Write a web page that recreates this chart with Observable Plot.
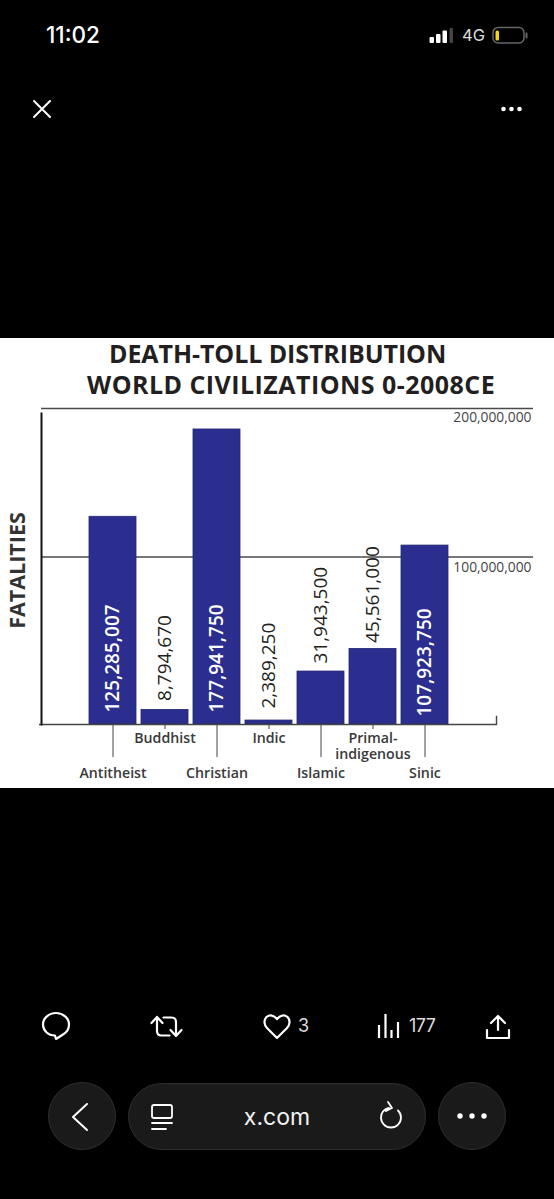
<!DOCTYPE html>
<html>
<head>
<meta charset="utf-8">
<script src="https://cdn.jsdelivr.net/npm/d3@7"></script>
<script src="https://cdn.jsdelivr.net/npm/@observablehq/plot@0.6"></script>
<style>
html,body{margin:0;padding:0;background:#000;}
#page{position:relative;width:554px;height:1199px;overflow:hidden;background:#000;font-family:Inter,Roboto,sans-serif;color:#fff;}
#chart{position:absolute;left:0;top:338px;width:554px;height:450px;background:#fff;}
#chart svg{display:block;}
.title{position:absolute;left:0;top:0;color:#231f20;font:700 25px "Open Sans",sans-serif;white-space:nowrap;margin:0;line-height:30.500px;}
.title span{display:block;}
.t{position:absolute;white-space:nowrap;line-height:1;}
.ic{position:absolute;left:0;top:0;}
</style>
</head>
<body>
<div id="page">
  <div class="t" style="left:46px;top:24px;font-size:22.500px;font-weight:500;">11:02</div>
  <div class="t" style="left:462px;top:27px;font-size:16.500px;color:#ddd;">4G</div>
  <div class="t" style="left:298px;top:1017px;font-size:18px;color:#ddd;">3</div>
  <div class="t" style="left:409px;top:1017px;font-size:18px;letter-spacing:-.6px;color:#ddd;">177</div>
  <svg class="ic" width="554" height="1199" fill="none" stroke="#fff" stroke-width="2" stroke-linecap="round" stroke-linejoin="round">
    <g stroke="none" fill="#fff">
      <rect x="429.500" y="37" width="4.500" height="6" rx="1"/><rect x="436" y="34" width="4.500" height="9" rx="1"/><rect x="442.500" y="30.500" width="4.500" height="12.500" rx="1"/>
      <rect x="449.500" y="28" width="3.500" height="15" rx="1" fill="#444"/>
      <rect x="495.500" y="30.500" width="3.500" height="10" rx="1.500" fill="#f5d90a"/>
      <circle cx="503.500" cy="109" r="2.300"/><circle cx="511.500" cy="109" r="2.300"/><circle cx="519.500" cy="109" r="2.300"/>
    </g>
    <rect x="493" y="27.500" width="31" height="15.500" rx="5" stroke="#666" stroke-width="1.500"/>
    <path d="M526.500 33.500v4" stroke="#666"/>
    <path d="M34 101l16 16M50 101l-16 16"/>
    <!-- action row -->
    <path d="M56 1013c-7 0-13 5-13 11.500c0 6 5 11 12 11l1 3.500l7-4.500c3.500-2 6-5.500 6-10c0-6.500-6-11.500-13-11.500z" stroke-width="2.200"/>
    <path d="M157 1017l-5.500 6M157 1017l5.500 6M157 1018v13c0 3 1.500 4.500 4.500 4.500h8M176 1036l-5.500-6M176 1036l5.500-6M176 1035v-13c0-3-1.500-4.500-4.500-4.500h-8" stroke-width="2.200"/>
    <path d="M277 1038l-10-10c-3-3-3.500-8-.5-11c3-2.500 7.500-2 10.500 2c3-4 7.500-4.500 10.500-2c3 3 2.500 8-.5 11z" stroke-width="2.200"/>
    <path d="M379 1038v-13M385.500 1038v-24M391.500 1038v-8M398 1038v-16" stroke-linecap="butt" stroke-width="2.200"/>
    <path d="M498 1030v-13M491 1023l7-7l7 7M487 1030v8h22v-8" stroke-width="2.200"/>
    <!-- nav -->
    <circle cx="82" cy="1116" r="33.500" fill="#1a1a1a" stroke="#2e2e2e" stroke-width="1"/>
    <rect x="128.500" y="1083.500" width="297" height="66" rx="33" fill="#1a1a1a" stroke="#2e2e2e" stroke-width="1"/>
    <circle cx="472" cy="1116" r="33.500" fill="#1a1a1a" stroke="#2e2e2e" stroke-width="1"/>
    <g stroke="none" fill="#fff"><circle cx="460" cy="1116" r="2.700"/><circle cx="472" cy="1116" r="2.700"/><circle cx="484" cy="1116" r="2.700"/></g>
    <path d="M87 1104l-14 13l14 13" stroke-width="2"/>
    <rect x="152" y="1105" width="20" height="13" rx="2" stroke-width="1.800"/>
    <path d="M152 1123h20M152 1129h14" stroke-width="1.800"/>
    <path d="M389 1108c-5 1-8 5-8 9.500c0 5.500 4.500 10 10 10c5.500 0 10-4.500 10-10c0-3-1-5-3-7M388 1102l4 6l-6 3" stroke-width="1.800"/>
  </svg>
  <div class="t" style="left:0;width:554px;text-align:center;top:1106px;font-size:23px;color:#f2f2f2;">x.com</div>

  <div id="chart">
    <h2 class="title"><span style="margin-left:109px;letter-spacing:-.08px;">DEATH-TOLL DISTRIBUTION</span><span style="margin-left:87px;letter-spacing:.46px;">WORLD CIVILIZATIONS 0-2008CE</span></h2>
  </div>
</div>
<script>
const categories = ["Antitheist","Buddhist","Christian","Indic","Islamic","Primal-\nindigenous","Sinic"];
const fatalities = [125285007,8794670,177941750,2389250,31943500,45561000,107923750];
const valueLabels = ["125,285,007","8,794,670","177,941,750","2,389,250","31,943,500","45,561,000","107,923,750"];
const insideBar = ["Antitheist","Christian","Sinic"];
const lowerRow = ["Antitheist","Christian","Islamic","Sinic"];
const upperRow = ["Buddhist","Indic","Primal-\nindigenous"];
const gridDrawnAt = [101000000,190600000];
const gridLabels = ["100,000,000","200,000,000"];

const rows = categories.map((c,i)=>({category:c,value:fatalities[i],label:valueLabels[i]}));
const grid = gridDrawnAt.map((v,i)=>({value:v,label:gridLabels[i]}));
const FONT = '"Open Sans",sans-serif';
const BLUE = "#2b2e8f";
// how far each printed number sits from its anchor, in pixels
const labelLift = {"Antitheist":12,"Buddhist":9,"Christian":12,"Indic":12,"Islamic":8,"Primal-\nindigenous":6,"Sinic":8};

const valueMarks = rows.map(d => {
  const inside = insideBar.includes(d.category);
  return Plot.text([d],{x:"category",y:inside?0:"value",text:"label",rotate:-90,textAnchor:"start",lineAnchor:"middle",
    dy:-labelLift[d.category],fontSize:19,fontWeight:inside?600:500,fill:inside?"#fff":"#231f20"});
});

const chart = Plot.plot({
  width:554, height:450,
  marginTop:70, marginBottom:64, marginLeft:41, marginRight:21,
  style:{background:"transparent",fontFamily:FONT,color:"#333",overflow:"visible"},
  x:{type:"band",domain:categories,range:[86.5,450.5],paddingInner:0.096,paddingOuter:0.048,label:null},
  y:{domain:[0,190600000],axis:null},
  marks:[
    Plot.ruleY(grid,{y:"value",stroke:"#4a4a4a",strokeWidth:1.4}),
    Plot.barY(rows,{x:"category",y:"value",fill:BLUE,stroke:"#23256f",strokeWidth:0.8}),
    Plot.ruleY([0],{stroke:"#444",strokeWidth:1.4,insetRight:37,insetLeft:-2}),
    Plot.frame({anchor:"left",stroke:"#111",strokeWidth:2,insetTop:5}),
    Plot.frame({anchor:"right",stroke:"#444",strokeWidth:1.4,insetRight:37,insetTop:308}),
    Plot.axisX({ticks:upperRow,tickSize:5,tickPadding:2,fontSize:14.2,fontWeight:600,fill:"#3a3a3a",stroke:"#444",label:null,lineHeight:1.13,tickFormat:d=>d,lineAnchor:"top"}),
    Plot.axisX({ticks:lowerRow,tickSize:33,tickPadding:10,fontSize:14.2,fontWeight:600,fill:"#3a3a3a",stroke:"#444",label:null,tickFormat:d=>d}),
    ...valueMarks,
    Plot.text(grid.slice(0,1),{y:"value",text:"label",frameAnchor:"right",textAnchor:"end",dx:-2,dy:11,fontSize:13.8,fill:"#444"}),
    Plot.text(grid.slice(1),{y:"value",text:"label",frameAnchor:"right",textAnchor:"end",dx:-2,dy:9,fontSize:13.8,fill:"#444"}),
    Plot.text(["FATALITIES"],{frameAnchor:"left",rotate:-90,textAnchor:"middle",dx:-23,dy:4,fontSize:21.5,fontWeight:700,fill:"#333"})
  ]
});
document.getElementById("chart").appendChild(chart);
</script>
</body>
</html>
